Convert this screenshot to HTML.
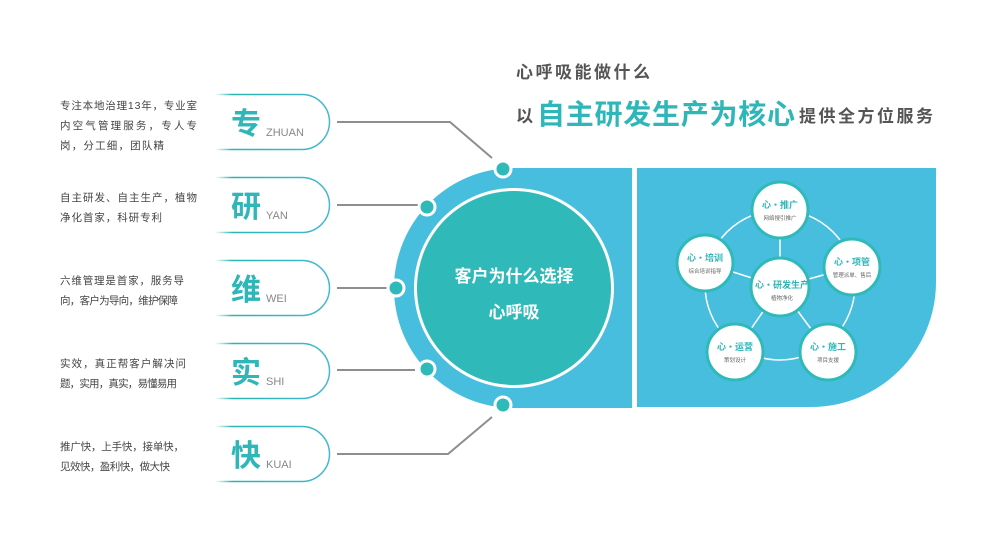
<!DOCTYPE html>
<html><head><meta charset="utf-8"><style>
html,body{margin:0;padding:0;background:#fff;}
svg{display:block;font-family:"Liberation Sans","Noto Sans CJK SC",sans-serif;}
</style></head><body>
<svg width="1000" height="541" viewBox="0 0 1000 541" xmlns="http://www.w3.org/2000/svg">
<defs>
<linearGradient id="cg" x1="0" x2="1" y1="0" y2="0">
<stop offset="0" stop-color="#2bb5b0" stop-opacity="0"/>
<stop offset="0.15" stop-color="#2bb5b0" stop-opacity="1"/>
<stop offset="1" stop-color="#45b8d2"/>
</linearGradient>
</defs>
<!-- title -->
<text x="516" y="78" font-size="17" font-weight="bold" fill="#555" textLength="134" lengthAdjust="spacing">心呼吸能做什么</text>
<text x="516" y="122" font-size="17" font-weight="bold" fill="#555">以</text>
<text x="537" y="124" font-size="28" font-weight="bold" fill="#2fb6b8" textLength="258" lengthAdjust="spacing">自主研发生产为核心</text>
<text x="799" y="122" font-size="17" font-weight="bold" fill="#555" textLength="134" lengthAdjust="spacing">提供全方位服务</text>

<!-- left big shape -->
<path d="M632 168 H514 A120 120 0 0 0 514 408 H632 Z" fill="#48bedf"/>
<circle cx="514" cy="288" r="100" fill="#fff"/>
<circle cx="514" cy="288" r="97" fill="#30b9b9"/>
<text x="514" y="282" font-size="17" font-weight="bold" fill="#fff" text-anchor="middle">客户为什么选择</text>
<text x="514" y="318" font-size="17" font-weight="bold" fill="#fff" text-anchor="middle">心呼吸</text>

<!-- right panel -->
<path d="M637 168 H936 V282 A125 125 0 0 1 811 407 H637 Z" fill="#48bedf"/>

<!-- connectors -->
<g stroke="#8e8e8e" stroke-width="2" fill="none">
<polyline points="337,122 450,122 492,158"/>
<line x1="337" y1="205" x2="418" y2="205"/>
<line x1="337" y1="288" x2="387" y2="288"/>
<line x1="337" y1="370" x2="415" y2="370"/>
<polyline points="337,454 448,454 492,417"/>
</g>
<g fill="#30b9b9" stroke="#fff" stroke-width="3">
<circle cx="503" cy="169" r="8"/>
<circle cx="427" cy="207" r="8"/>
<circle cx="396" cy="288" r="8"/>
<circle cx="427" cy="369" r="8"/>
<circle cx="503" cy="405" r="8"/>
</g>

<!-- cards -->
<g fill="none" stroke="url(#cg)" stroke-width="1.5">
<path d="M215 94.5 H302 A27.5 27.5 0 0 1 302 149.5 H215"/>
<path d="M215 177.5 H302 A27.5 27.5 0 0 1 302 232.5 H215"/>
<path d="M215 260.5 H302 A27.5 27.5 0 0 1 302 315.5 H215"/>
<path d="M215 343.5 H302 A27.5 27.5 0 0 1 302 398.5 H215"/>
<path d="M215 426.5 H302 A27.5 27.5 0 0 1 302 481.5 H215"/>
</g>
<g font-size="30" font-weight="bold" fill="#2fb6b8">
<text x="231" y="134">专</text>
<text x="231" y="217">研</text>
<text x="231" y="300">维</text>
<text x="231" y="383">实</text>
<text x="231" y="466">快</text>
</g>
<g font-size="11" fill="#888">
<text x="266" y="136">ZHUAN</text>
<text x="266" y="219">YAN</text>
<text x="266" y="302">WEI</text>
<text x="266" y="385">SHI</text>
<text x="266" y="468">KUAI</text>
</g>
<g font-size="10.5" fill="#444" lengthAdjust="spacing">
<text x="60" y="109" textLength="137">专注本地治理13年，专业室</text>
<text x="60" y="129" textLength="137">内空气管理服务，专人专</text>
<text x="60" y="149" textLength="104">岗，分工细，团队精</text>
<text x="60" y="201" textLength="137">自主研发、自主生产，植物</text>
<text x="60" y="221" textLength="102">净化首家，科研专利</text>
<text x="60" y="284" textLength="124">六维管理是首家，服务导</text>
<text x="60" y="304" textLength="118">向，客户为导向，维护保障</text>
<text x="60" y="367" textLength="126">实效，真正帮客户解决问</text>
<text x="60" y="387" textLength="117">题，实用，真实，易懂易用</text>
<text x="60" y="450" textLength="124">推广快，上手快，接单快，</text>
<text x="60" y="470" textLength="110">见效快，盈利快，做大快</text>
</g>

<!-- pentagon nodes -->
<circle cx="780" cy="285" r="75" fill="none" stroke="#fff" stroke-width="1.5"/>
<g stroke="#fff" stroke-width="1.5">
<line x1="780" y1="287" x2="780" y2="210"/>
<line x1="780" y1="287" x2="705" y2="263"/>
<line x1="780" y1="287" x2="852" y2="267"/>
<line x1="780" y1="287" x2="735" y2="352"/>
<line x1="780" y1="287" x2="828" y2="352"/>
</g>
<g fill="#fff" stroke="#30b9b9" stroke-width="3">
<circle cx="780" cy="210" r="28"/>
<circle cx="705" cy="263" r="28"/>
<circle cx="852" cy="267" r="28"/>
<circle cx="780" cy="287" r="29"/>
<circle cx="735" cy="352" r="28"/>
<circle cx="828" cy="352" r="28"/>
</g>
<g font-size="9" font-weight="bold" fill="#2fb6b8" text-anchor="middle">
<text x="780" y="208">心・推广</text>
<text x="705" y="261">心・培训</text>
<text x="852" y="265">心・项管</text>
<text x="782" y="288">心・研发生产</text>
<text x="735" y="350">心・运营</text>
<text x="828" y="350">心・施工</text>
</g>
<g font-size="5.5" fill="#666" text-anchor="middle">
<text x="780" y="220">网络搜引推广</text>
<text x="705" y="273">综合培训指导</text>
<text x="852" y="277">管理派单、售后</text>
<text x="782" y="300">植物净化</text>
<text x="735" y="362">策划设计</text>
<text x="828" y="362">项目支援</text>
</g>
</svg>
</body></html>
